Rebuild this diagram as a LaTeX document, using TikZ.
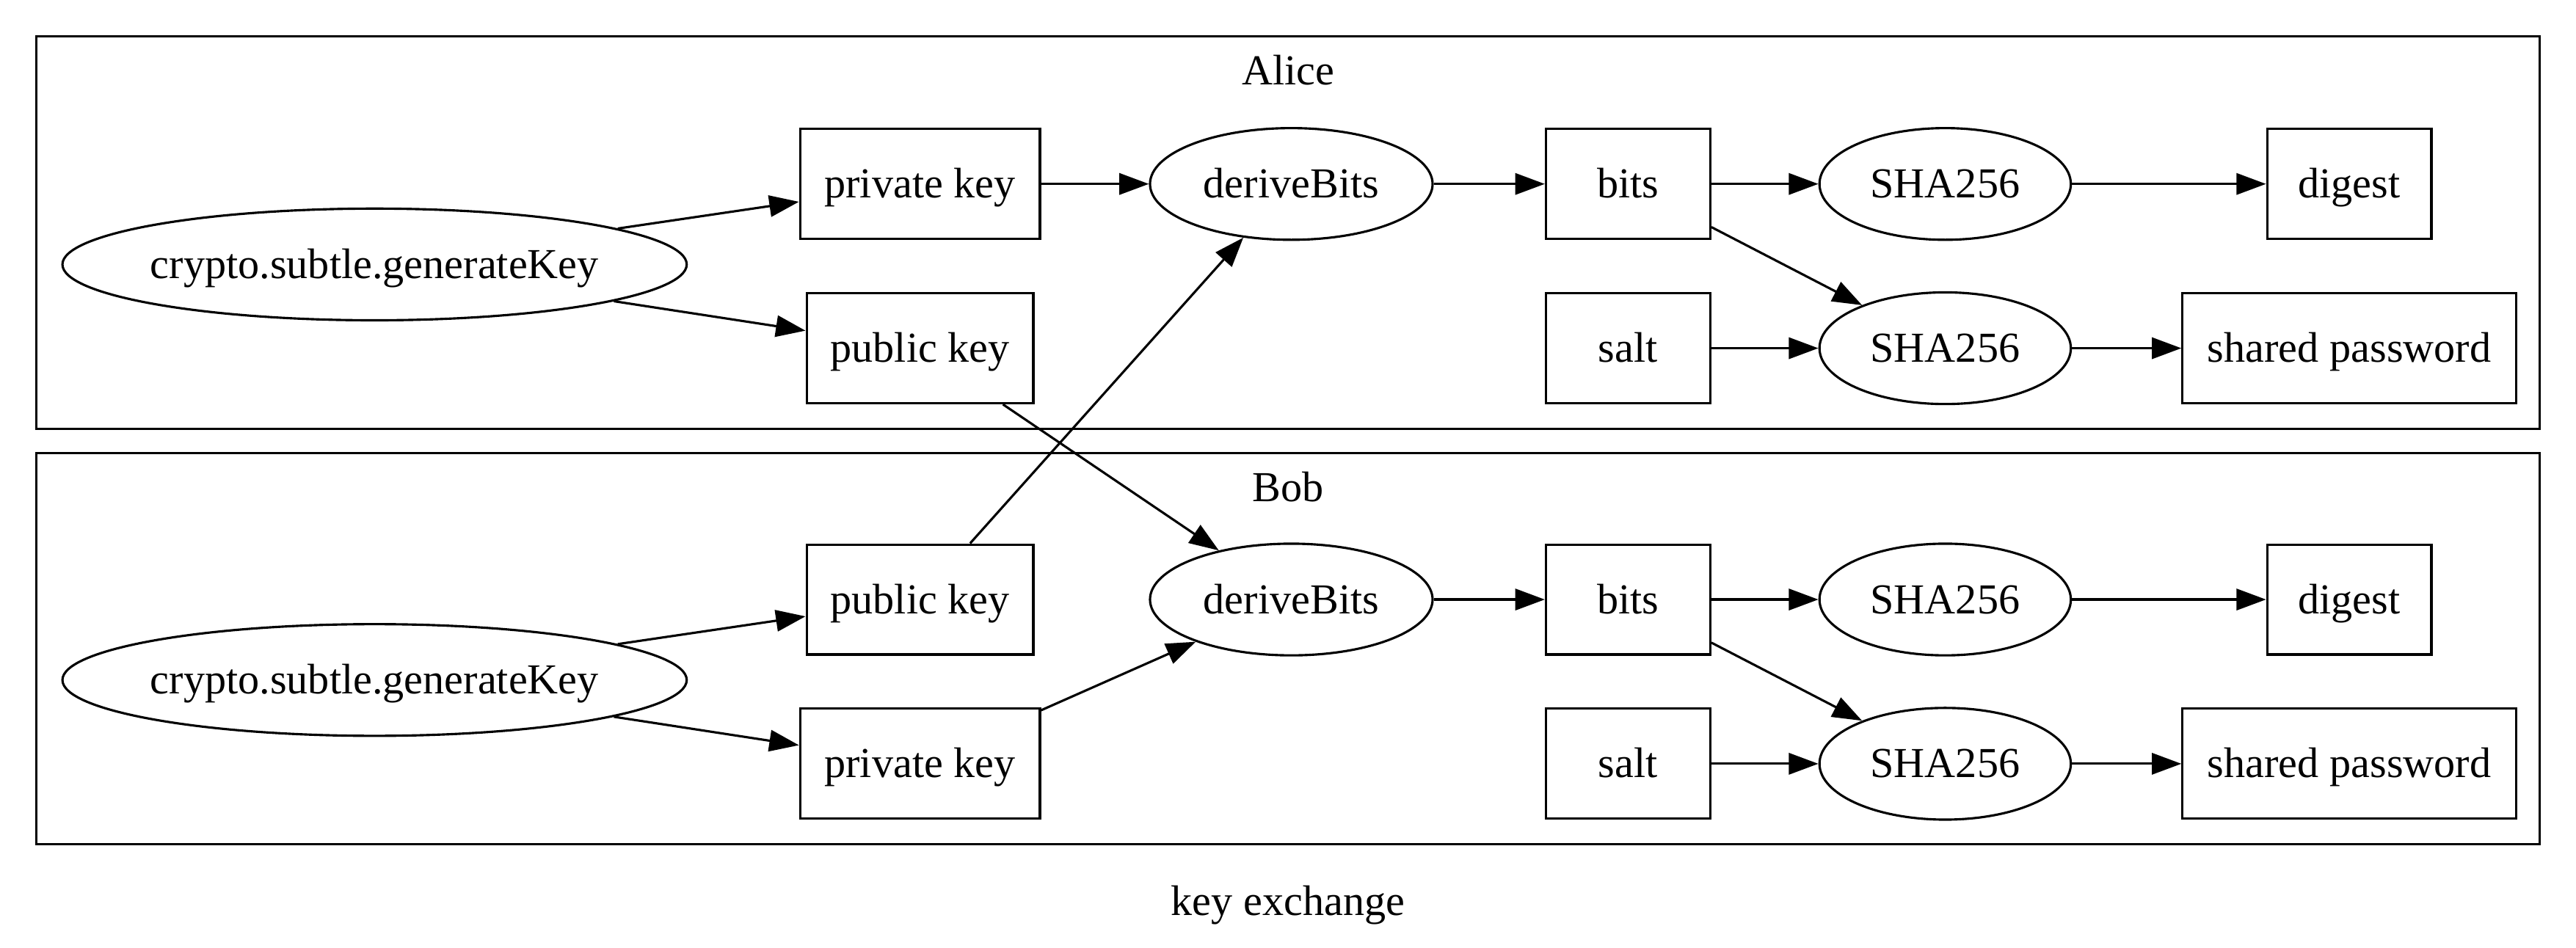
\documentclass[tikz,border=0pt]{standalone}
\usepackage{fontspec}
\setmainfont{Liberation Serif}
\usetikzlibrary{shapes.geometric,arrows.meta}
\begin{document}
\begin{tikzpicture}[x=1pt,y=-1pt,
  font=\fontsize{26pt}{30pt}\selectfont,
  every node/.style={line width=1.4pt, text height=17pt, text depth=0pt},
  box/.style={draw, rectangle, inner sep=0pt, minimum height=67pt},
  oval/.style={draw, ellipse, inner sep=0pt, minimum height=68pt},
  cluster/.style={draw, line width=1.4pt},
  edge/.style={line width=1.4pt, -{Triangle[length=18pt,width=13pt]}},
  lbl/.style={inner sep=0pt}
]
\fill[white] (0,0) rectangle (1568,577);
\useasboundingbox (0,0) rectangle (1568,577);

% clusters
\draw[cluster] (22,22) rectangle (1546,261);
\draw[cluster] (22,276) rectangle (1546,514);
\node[lbl] (alicelbl) at (784,43) {Alice};
\node[lbl] (boblbl) at (784,297) {Bob};
\node[lbl] (caption) at (784,549) {key exchange};

% Alice
\node[oval, minimum width=380pt] (agen) at (228,161) {\makebox[0pt]{crypto.subtle.generateKey}};
\node[box, minimum width=146pt] (apriv) at (560,112) {private key};
\node[box, minimum width=138pt] (apub) at (560,212) {public key};
\node[oval, minimum width=172pt] (aderive) at (786,112) {deriveBits};
\node[box, minimum width=100pt] (abits) at (991,112) {bits};
\node[box, minimum width=100pt] (asalt) at (991,212) {salt};
\node[oval, minimum width=153pt] (asha1) at (1184,112) {SHA256};
\node[oval, minimum width=153pt] (asha2) at (1184,212) {SHA256};
\node[box, minimum width=100pt] (adigest) at (1430,112) {digest};
\node[box, minimum width=203pt] (apass) at (1430,212) {shared password};

% Bob
\node[oval, minimum width=380pt] (bgen) at (228,414) {\makebox[0pt]{crypto.subtle.generateKey}};
\node[box, minimum width=138pt] (bpub) at (560,365) {public key};
\node[box, minimum width=146pt] (bpriv) at (560,465) {private key};
\node[oval, minimum width=172pt] (bderive) at (786,365) {deriveBits};
\node[box, minimum width=100pt] (bbits) at (991,365) {bits};
\node[box, minimum width=100pt] (bsalt) at (991,465) {salt};
\node[oval, minimum width=153pt] (bsha1) at (1184,365) {SHA256};
\node[oval, minimum width=153pt] (bsha2) at (1184,465) {SHA256};
\node[box, minimum width=100pt] (bdigest) at (1430,365) {digest};
\node[box, minimum width=203pt] (bpass) at (1430,465) {shared password};

% Alice edges
\draw[edge] (agen) -- (apriv);
\draw[edge] (agen) -- (apub);
\draw[edge] (apriv) -- (aderive);
\draw[edge] (aderive) -- (abits);
\draw[edge] (abits) -- (asha1);
\draw[edge] (asha1) -- (adigest);
\draw[edge] (abits) -- (asha2);
\draw[edge] (asalt) -- (asha2);
\draw[edge] (asha2) -- (apass);

% Bob edges
\draw[edge] (bgen) -- (bpub);
\draw[edge] (bgen) -- (bpriv);
\draw[edge] (bpriv) -- (bderive);
\draw[edge] (bderive) -- (bbits);
\draw[edge] (bbits) -- (bsha1);
\draw[edge] (bsha1) -- (bdigest);
\draw[edge] (bbits) -- (bsha2);
\draw[edge] (bsalt) -- (bsha2);
\draw[edge] (bsha2) -- (bpass);

% cross edges
\draw[edge] (apub) -- (bderive);
\draw[edge] (bpub) -- (aderive);
\end{tikzpicture}
\end{document}
